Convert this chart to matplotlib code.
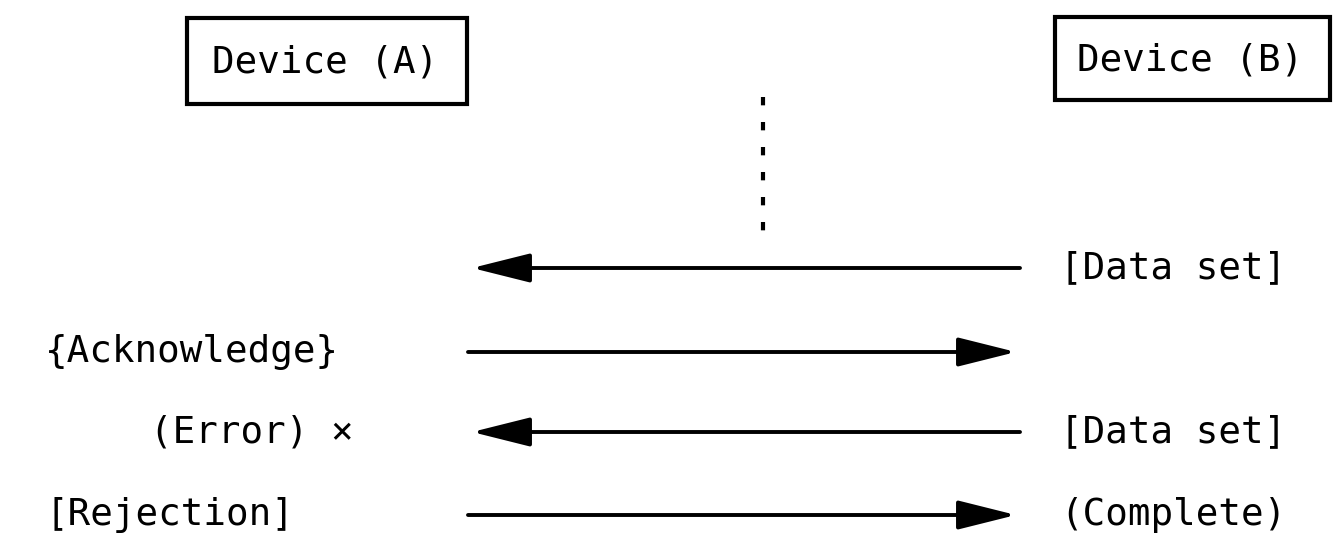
import matplotlib
matplotlib.use("Agg")
import matplotlib.pyplot as plt
from matplotlib.patches import Rectangle

# devices (actors) and message sequence
devices = ["Device (A)", "Device (B)"]
msg_direction = ["B->A", "A->B", "B->A", "A->B"]
left_labels = ["", "{Acknowledge}", "(Error) \u00d7", "[Rejection]"]
right_labels = ["[Data set]", "", "[Data set]", "(Complete)"]

W, H = 1338, 559
fig = plt.figure(figsize=(W / 100, H / 100), dpi=100)
ax = fig.add_axes([0, 0, 1, 1])
ax.set_xlim(0, W)
ax.set_ylim(H, 0)
ax.axis("off")

fs = 27
font = "DejaVu Sans Mono"

# device boxes
box_x = [(187, 467), (1055, 1330)]
box_y = [(18, 104), (17, 100)]
for name, (x0, x1), (y0, y1) in zip(devices, box_x, box_y):
    ax.add_patch(Rectangle((x0, y0), x1 - x0, y1 - y0, fill=False,
                           edgecolor="black", linewidth=3))
    ax.text((x0 + x1) / 2 - 2, (y0 + y1) / 2 + 2, name, ha="center", va="center",
            fontsize=fs, family=font)

# dotted continuation line
ax.plot([763, 763], [97, 232], color="black", linewidth=3,
        linestyle=(0, (2, 4)))

# messages
row_y = [268, 352, 432, 515]
xl, xr = 472, 1020
for y, d, ll, rl in zip(row_y, msg_direction, left_labels, right_labels):
    if d == "B->A":
        start, end = xr, xl
    else:
        start, end = xl - 4, xr - 4
    ax.annotate("", xy=(end, y), xytext=(start, y),
                arrowprops=dict(arrowstyle="-|>,head_length=3.6,head_width=0.9",
                                color="black", linewidth=2.8,
                                shrinkA=0, shrinkB=0))
    if ll:
        x_left = 150 if "Error" in ll else 45
        ax.text(x_left, y, ll, ha="left", va="center", fontsize=fs,
                family=font)
    if rl:
        ax.text(1060, y, rl, ha="left", va="center", fontsize=fs,
                family=font)

fig.savefig("out.png", dpi=100, facecolor="white")
